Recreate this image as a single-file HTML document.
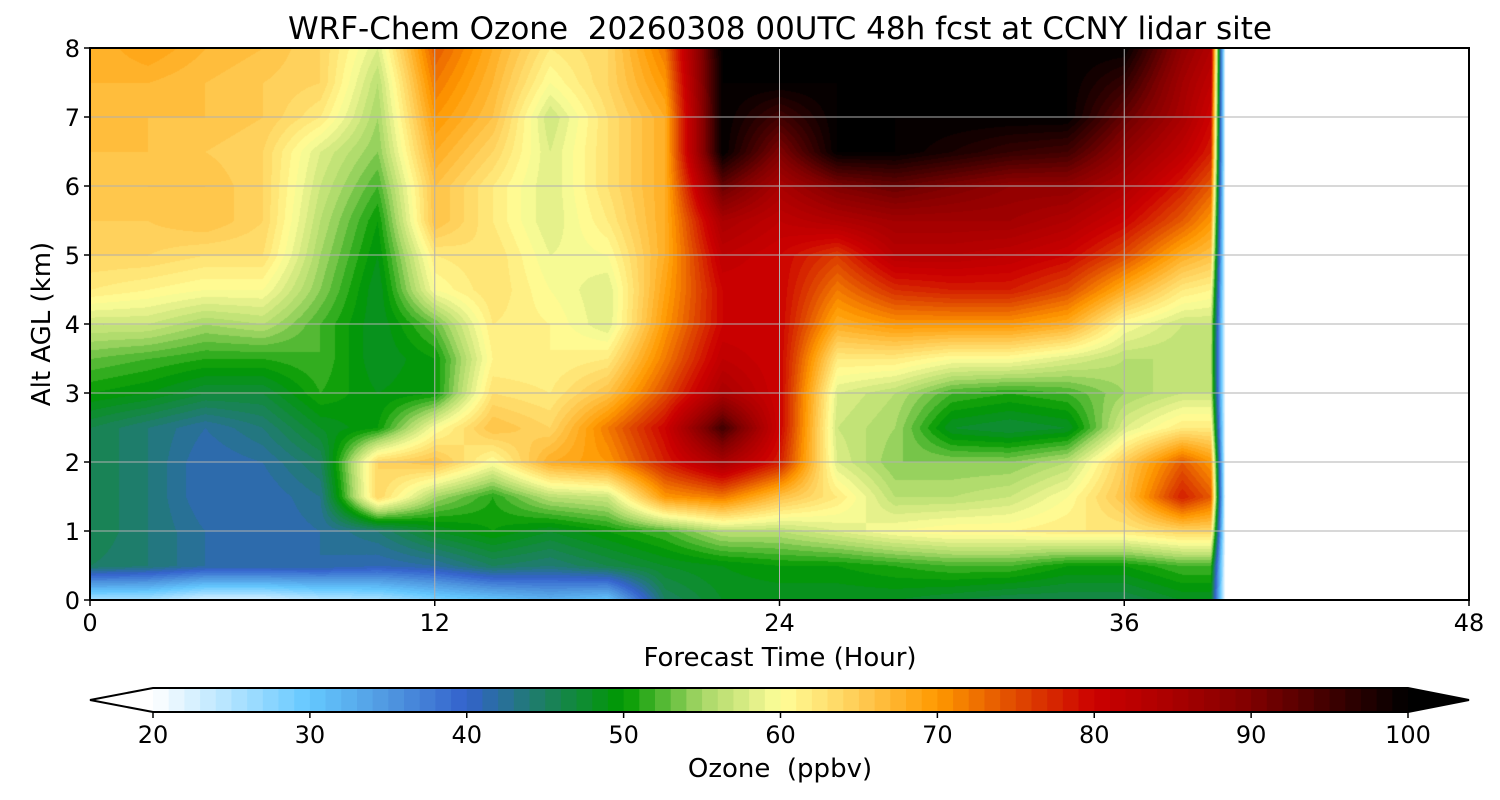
<!DOCTYPE html>
<html><head><meta charset="utf-8">
<style>
html,body{margin:0;padding:0;background:#fff;}
#wrap{position:relative;width:1500px;height:800px;overflow:hidden;font-family:"Liberation Sans","DejaVu Sans",sans-serif;}
#heat{position:absolute;left:90px;top:48px;}
svg{position:absolute;left:0;top:0;}
text{font-family:"DejaVu Sans","Liberation Sans",sans-serif;fill:#000;white-space:pre;}
</style></head>
<body>
<div id="wrap">
<canvas id="heat" width="1379" height="552"></canvas>
<svg id="svg" width="1500" height="800"></svg>
</div>
<script>
// ---- data ----
const times = [0,2,4,6,8,10,12,14,16,18,20,22,24,26,28,30,32,34,36,38,39,39.5];
const alts = [0,0.5,1,1.5,2,2.5,3,3.5,4,4.5,5,5.5,6,6.5,7,7.5,8];
const ozone = [
[25,45,46,46,46,46,50,53,57,62,64,65,65,66,67,67,67],
[25,44,44,44,44,44,49,52,57,61,64,65,66,66,66,67,69],
[22,42,42,41,41,42,47,51,55,60,63,66,66,65,66,66,67],
[22,42,41,41,42,44,47,51,56,60,63,64,64,64,65,65,66],
[24,42,42,43,45,48,51,52,52,54,55,56,57,58,62,64,64],
[25,41,44,64,64,50,49,48,48,48,49,50,52,54,55,56,58],
[28,42,48,55,66,60,50,50,53,60,62,66,66,68,70,72,74],
[30,45,50,51,60,66,63,61,62,63,63,62,62,64,66,67,68],
[32,44,48,56,68,64,62,61,61,60,59,58,58,58,57,60,62],
[30,46,50,57,70,72,66,62,58,58,60,62,63,63,63,64,64],
[45,48,52,70,78,80,75,72,70,69,68,68,68,68,68,70,72],
[48,49,56,72,85,95,85,82,80,80,82,85,92,100,100,100,100],
[48,50,56,66,78,80,80,80,80,80,80,82,85,90,95,100,100],
[48,50,58,62,58,57,58,62,68,72,76,84,90,100,100,100,100],
[48,51,60,56,54,55,56,62,70,77,83,86,92,100,100,100,100],
[47,52,61,56,54,48,52,60,70,78,83,86,90,98,100,100,100],
[46,52,61,57,54,47,51,60,70,78,82,86,88,96,100,100,100],
[46,50,62,60,56,48,52,58,68,75,80,84,88,95,100,100,100],
[46,50,62,66,65,58,55,56,60,68,75,80,84,88,92,96,100],
[48,52,64,78,74,62,57,56,57,62,68,74,78,82,85,86,88],
[48,52,64,74,70,62,57,56,57,61,66,70,74,78,80,82,84],
[20,20,20,20,20,20,20,20,20,20,20,20,20,20,20,20,20]
];
const cbVals = [20,30,35,40,45,50,55,59,60,65,70,75,80,85,90,95,100];
const cbCols = ["#ffffff","#64c8ff","#5098e0","#3462cc","#1c8060","#009a00","#a8d868","#eef590","#ffff99","#ffcc55","#ff9900","#e04a00","#cc0000","#aa0000","#800000","#400000","#000000"];
const xTicks = [0,12,24,36,48];
const yTicks = [0,1,2,3,4,5,6,7,8];
const cbTicks = [20,30,40,50,60,70,80,90,100];

// ---- geometry ----
const PX0=90,PX1=1469,PY0=48,PY1=600;
const xs = t => PX0 + (t/48)*(PX1-PX0);
const ys = z => PY1 - (z/8)*(PY1-PY0);
const CB0=153,CB1=1408,CBY=688,CBH=24;
const cbx = v => CB0 + (v-20)/80*(CB1-CB0);

function hex(c){return [parseInt(c.substr(1,2),16),parseInt(c.substr(3,2),16),parseInt(c.substr(5,2),16)];}
const cbRGB = cbCols.map(hex);
function cmap(v){
  v=Math.max(20,Math.min(100,v));
  for(let i=0;i<cbVals.length-1;i++){
    if(v<=cbVals[i+1]){
      const f=(v-cbVals[i])/(cbVals[i+1]-cbVals[i]);
      const a=cbRGB[i],b=cbRGB[i+1];
      return [a[0]+(b[0]-a[0])*f,a[1]+(b[1]-a[1])*f,a[2]+(b[2]-a[2])*f];
    }
  }
  return cbRGB[cbRGB.length-1];
}
function findIdx(arr,v){
  for(let i=0;i<arr.length-1;i++){ if(v<=arr[i+1]) return i; }
  return arr.length-2;
}
// ---- heatmap ----
const cv=document.getElementById('heat');
const ctx=cv.getContext('2d');
const W=cv.width,H=cv.height;
const img=ctx.createImageData(W,H);
const tMax=times[times.length-1];
for(let py=0;py<H;py++){
  const z=(H-py)/H*8;
  const j=findIdx(alts,z);
  const fz=Math.max(0,Math.min(1,(z-alts[j])/(alts[j+1]-alts[j])));
  for(let px=0;px<W;px++){
    const t=px/W*48;
    const k=(py*W+px)*4;
    if(t>tMax){img.data[k]=255;img.data[k+1]=255;img.data[k+2]=255;img.data[k+3]=255;continue;}
    const i=findIdx(times,t);
    const ft=Math.max(0,Math.min(1,(t-times[i])/(times[i+1]-times[i])));
    const v=(ozone[i][j]*(1-ft)+ozone[i+1][j]*ft)*(1-fz)+(ozone[i][j+1]*(1-ft)+ozone[i+1][j+1]*ft)*fz;
    const c=cmap(Math.floor(v)+0.5);
    img.data[k]=c[0];img.data[k+1]=c[1];img.data[k+2]=c[2];img.data[k+3]=255;
  }
}
ctx.putImageData(img,0,0);

// ---- svg ----
const NS='http://www.w3.org/2000/svg';
const svg=document.getElementById('svg');
function mk(tag,attrs,parent){const e=document.createElementNS(NS,tag);for(const a in attrs)e.setAttribute(a,attrs[a]);(parent||svg).appendChild(e);return e;}

const grid=mk('g',{});


xTicks.forEach(t=>{
  const l=mk('line',{x1:xs(t),x2:xs(t),y1:PY0,y2:PY1,stroke:'#b0b0b0','stroke-width':1},grid);
  
  
});
yTicks.forEach(z=>{
  const l=mk('line',{x1:PX0,x2:PX1,y1:ys(z),y2:ys(z),stroke:'#b0b0b0','stroke-width':1},grid);
  
  
});
const frame=mk('rect',{x:PX0,y:PY0,width:PX1-PX0,height:PY1-PY0,fill:'none',stroke:'#000','stroke-width':2});



xTicks.forEach(t=>{
  const l=mk('line',{x1:xs(t),x2:xs(t),y1:PY1,y2:PY1+6,stroke:'#000','stroke-width':1.5});
  
  
  const tx=mk('text',{x:xs(t),y:631,'text-anchor':'middle','font-size':24});
  tx.textContent=t;
  
  
});
yTicks.forEach(z=>{
  const l=mk('line',{x1:PX0-6,x2:PX0,y1:ys(z),y2:ys(z),stroke:'#000','stroke-width':1.5});
  
  
  const tx=mk('text',{x:80,y:ys(z)+9,'text-anchor':'end','font-size':24});
  tx.textContent=z;
  
  
});

const title=mk('text',{x:780,y:39,'text-anchor':'middle','font-size':31,'xml:space':'preserve'});
title.textContent='WRF-Chem Ozone  20260308 00UTC 48h fcst at CCNY lidar site';


const xt=mk('text',{x:780,y:666,'text-anchor':'middle','font-size':26});
xt.textContent='Forecast Time (Hour)';


const yt=mk('text',{x:50,y:324,'text-anchor':'middle','font-size':26,transform:'rotate(-90 50 324)'});
yt.textContent='Alt AGL (km)';



// ---- colorbar ----
const cb=mk('g',{});


for(let v=20;v<100;v++){
  const c=cmap(v+0.5);
  const r=mk('rect',{x:cbx(v),y:CBY,width:cbx(v+1)-cbx(v)+0.6,height:CBH,fill:`rgb(${c[0]|0},${c[1]|0},${c[2]|0})`},cb);
  
  
}
const tri=mk('polygon',{points:`${CB1},${CBY} ${PX1},${CBY+CBH/2} ${CB1},${CBY+CBH}`,fill:'#000'},cb);


const outline=mk('polygon',{points:`${PX0},${CBY+CBH/2} ${CB0},${CBY} ${CB1},${CBY} ${PX1},${CBY+CBH/2} ${CB1},${CBY+CBH} ${CB0},${CBY+CBH}`,fill:'none',stroke:'#000','stroke-width':2},cb);


cbTicks.forEach(v=>{
  const l=mk('line',{x1:cbx(v),x2:cbx(v),y1:CBY+CBH,y2:CBY+CBH+6,stroke:'#000','stroke-width':1.5},cb);
  
  
  const tx=mk('text',{x:cbx(v),y:743,'text-anchor':'middle','font-size':24},cb);
  tx.textContent=v;
  
  
});
const cbt=mk('text',{x:780,y:777,'text-anchor':'middle','font-size':26,'xml:space':'preserve'});
cbt.textContent='Ozone  (ppbv)';


</script>
</body></html>
